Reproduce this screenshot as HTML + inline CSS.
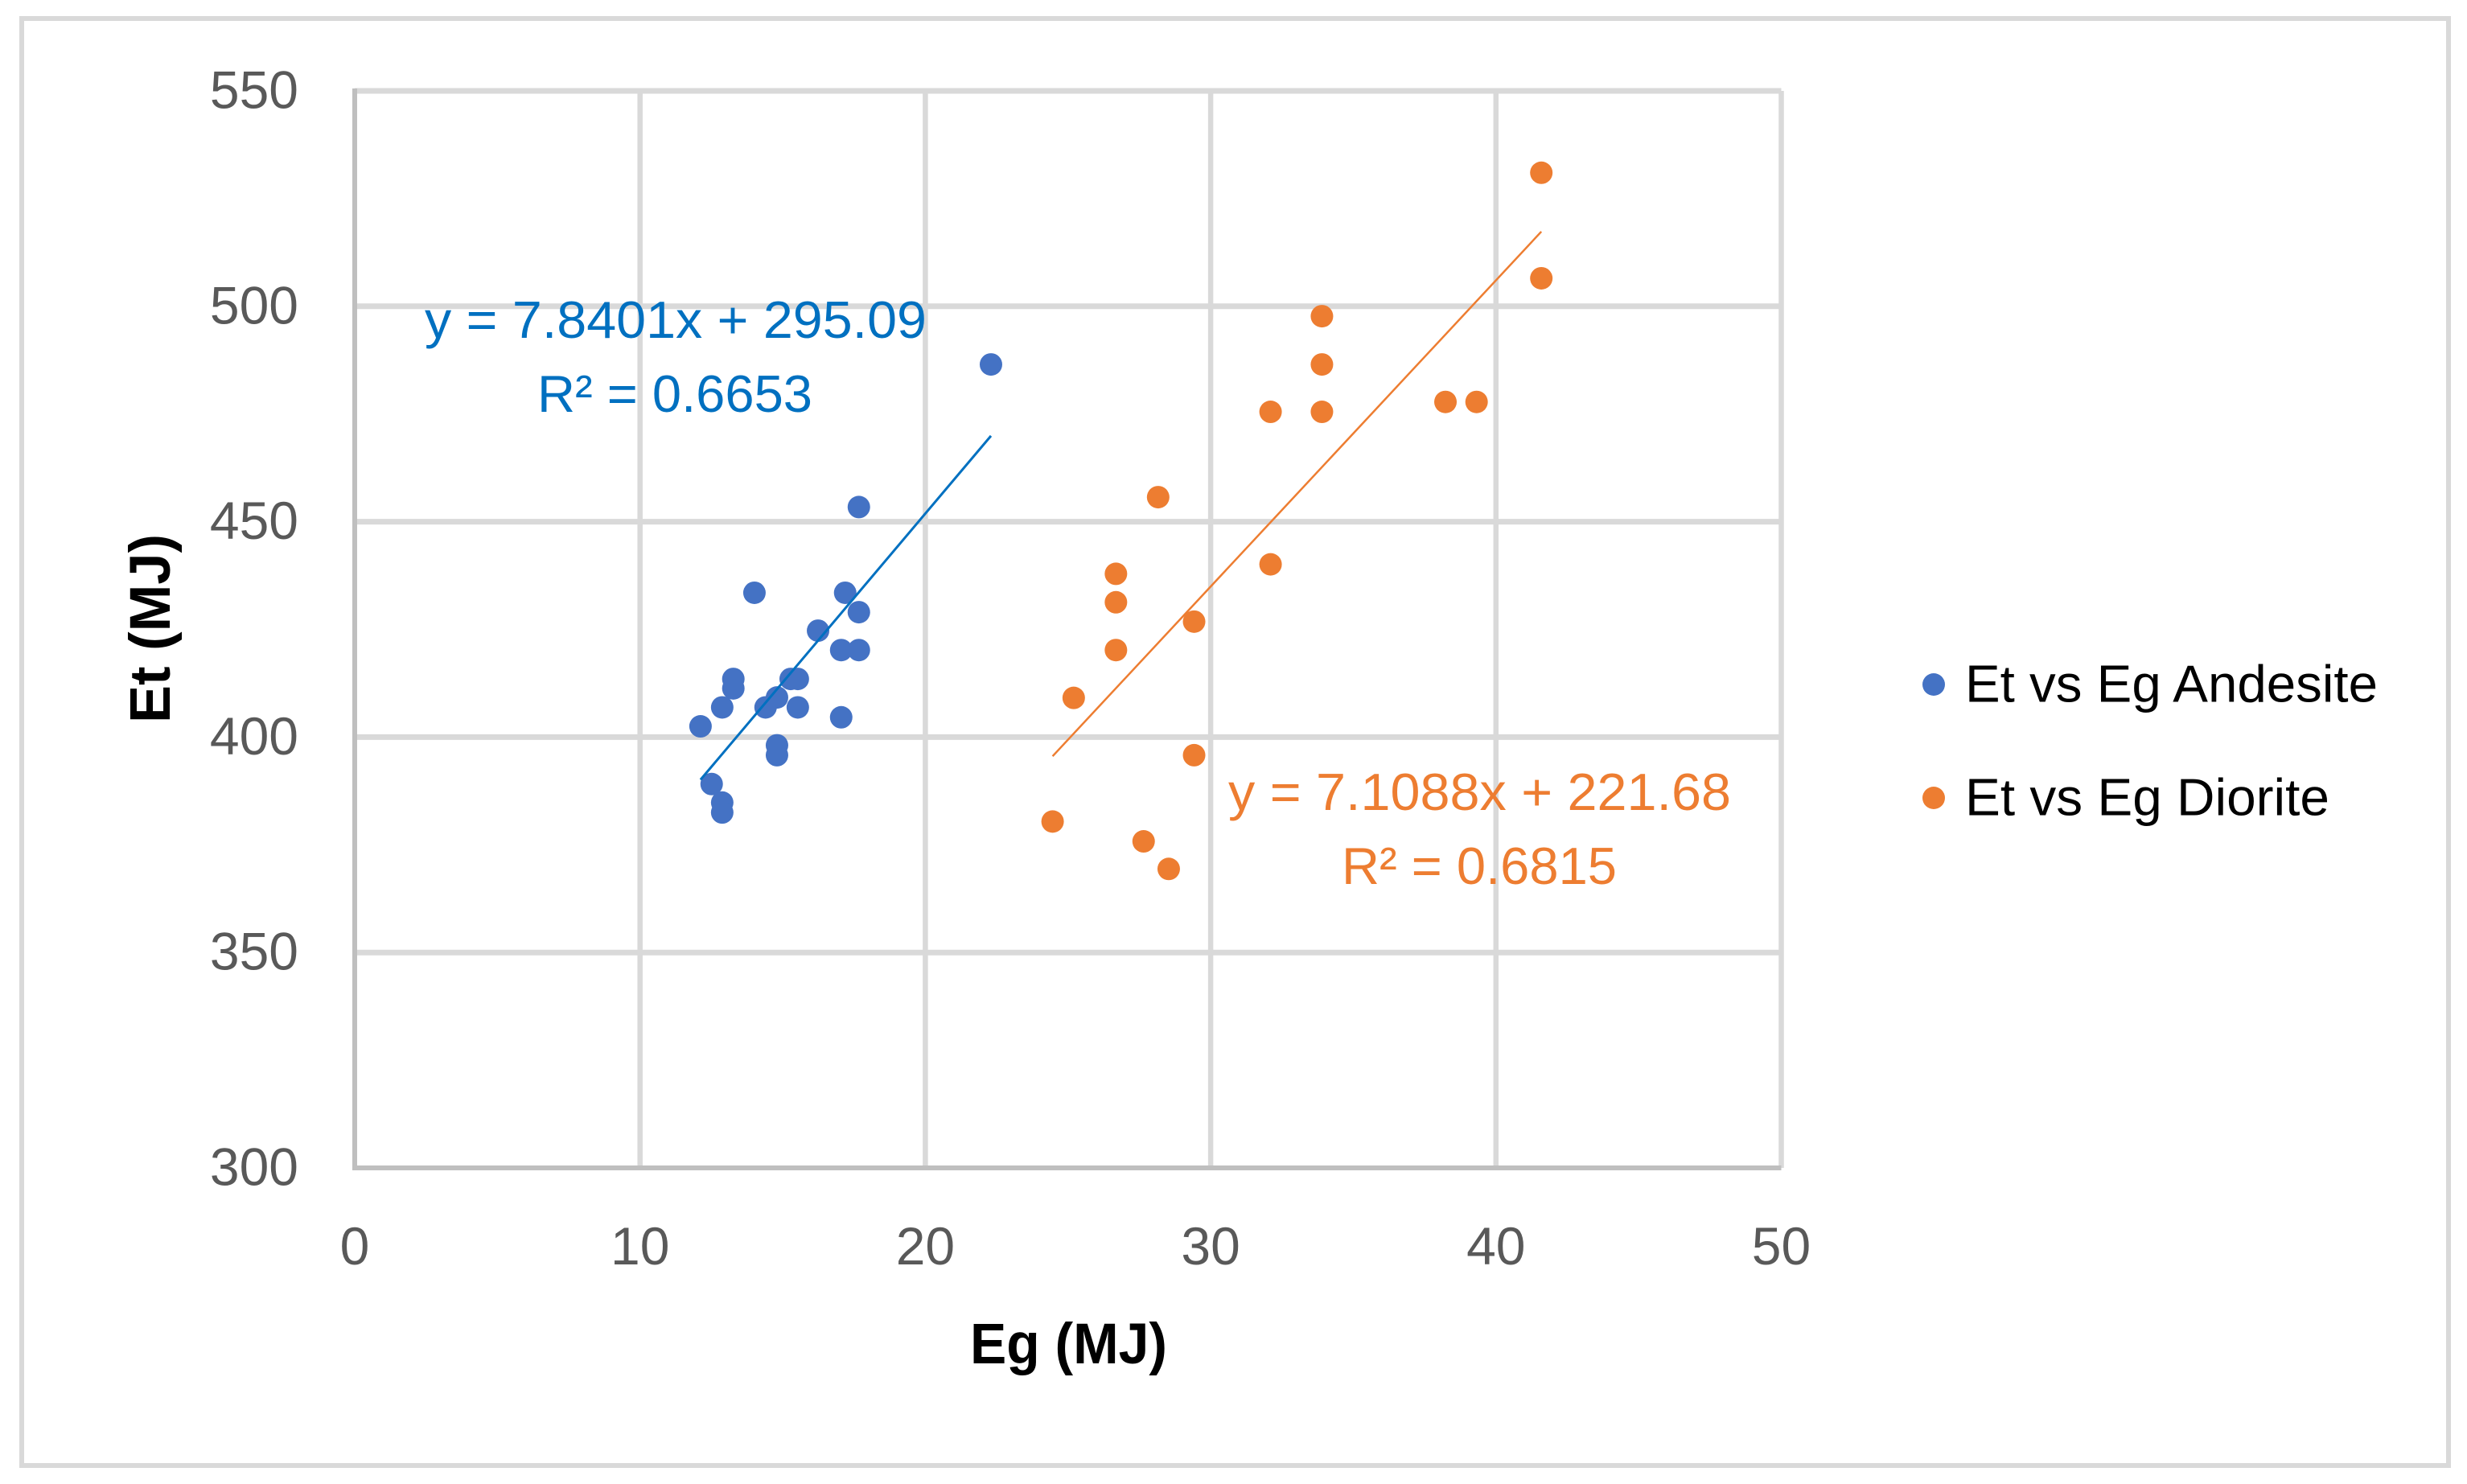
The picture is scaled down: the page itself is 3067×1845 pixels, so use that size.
<!DOCTYPE html>
<html>
<head>
<meta charset="utf-8">
<title>Et vs Eg scatter chart</title>
<style>
html,body{margin:0;padding:0;background:#fff;}
svg{display:block;}
text{font-family:"Liberation Sans",sans-serif;}
</style>
</head>
<body>
<svg id="chart" xmlns="http://www.w3.org/2000/svg" width="3067" height="1845" viewBox="0 0 3067 1845">
  <rect x="0" y="0" width="3067" height="1845" fill="#ffffff"/>
  <rect x="27" y="23" width="3017" height="1799" fill="none" stroke="#d9d9d9" stroke-width="6"/>
  <g id="grid"></g>
  <g id="axes"></g>
  <g id="ticks"></g>
  <g id="marks"></g>
  <g id="trends"></g>

  <text x="1206" y="1695" font-size="71" font-weight="bold" fill="#000" textLength="245" lengthAdjust="spacingAndGlyphs">Eg (MJ)</text>
  <text transform="translate(211,899) rotate(-90)" x="0" y="0" font-size="71" font-weight="bold" fill="#000" textLength="235" lengthAdjust="spacingAndGlyphs">Et (MJ)</text>

  <text x="528" y="420" font-size="65" fill="#0070c0" textLength="624" lengthAdjust="spacingAndGlyphs">y = 7.8401x + 295.09</text>
  <text x="668" y="512" font-size="65" fill="#0070c0" textLength="342" lengthAdjust="spacingAndGlyphs">R² = 0.6653</text>
  <text x="1527" y="1007" font-size="65" fill="#ed7d31" textLength="625" lengthAdjust="spacingAndGlyphs">y = 7.1088x + 221.68</text>
  <text x="1668" y="1099" font-size="65" fill="#ed7d31" textLength="342" lengthAdjust="spacingAndGlyphs">R² = 0.6815</text>

  <g>
    <circle cx="2404" cy="851" r="14" fill="#4472c4"/>
    <text x="2443" y="872.5" font-size="65" fill="#000" textLength="513" lengthAdjust="spacingAndGlyphs">Et vs Eg Andesite</text>
    <circle cx="2404" cy="992" r="14" fill="#ed7d31"/>
    <text x="2443" y="1013.5" font-size="65" fill="#000" textLength="453" lengthAdjust="spacingAndGlyphs">Et vs Eg Diorite</text>
  </g>
</svg>
<script>
const xTicks = [0, 10, 20, 30, 40, 50];
const yTicks = [300, 350, 400, 450, 500, 550];

const andesiteEg = [22.3, 17.67, 14.01, 17.19, 17.67, 16.24, 17.05, 17.67, 13.27, 15.28, 15.53, 13.27, 14.8, 14.4, 12.88, 15.53, 17.05, 12.12, 14.8, 14.8, 12.51, 12.88, 12.88];
const andesiteEt = [486.5, 453.4, 433.5, 433.5, 429.0, 424.7, 420.2, 420.2, 413.5, 413.5, 413.5, 411.3, 409.2, 406.9, 406.9, 406.9, 404.6, 402.5, 398.1, 395.8, 389.1, 384.8, 382.5];

const dioriteEg = [41.59, 41.59, 33.9, 33.9, 32.1, 33.9, 38.23, 39.32, 28.16, 26.68, 26.68, 26.68, 32.1, 29.42, 25.2, 29.42, 24.46, 27.65, 28.53];
const dioriteEt = [531.0, 506.5, 497.7, 486.5, 475.5, 475.5, 477.8, 477.8, 455.7, 437.9, 431.3, 420.2, 440.1, 426.8, 409.1, 395.8, 380.4, 375.8, 369.4];

const andesiteFit = [7.8401, 295.09];
const dioriteFit = [7.1088, 221.68];

const NS = 'http://www.w3.org/2000/svg';
const plotLeft = 441, plotRight = 2214.5, plotTop = 113, plotBottom = 1452;
const xMin = 0, xMax = 50, yMin = 300, yMax = 550;

function xScale(v) { return plotLeft + (v - xMin) / (xMax - xMin) * (plotRight - plotLeft); }
function yScale(v) { return plotBottom - (v - yMin) / (yMax - yMin) * (plotBottom - plotTop); }

function makeLine(parent, x1, y1, x2, y2, color, width) {
  const l = document.createElementNS(NS, 'line');
  l.setAttribute('x1', x1);
  l.setAttribute('y1', y1);
  l.setAttribute('x2', x2);
  l.setAttribute('y2', y2);
  l.setAttribute('stroke', color);
  l.setAttribute('stroke-width', width);
  parent.appendChild(l);
  return l;
}

const grid = document.getElementById('grid');
const axes = document.getElementById('axes');
const ticks = document.getElementById('ticks');
const marks = document.getElementById('marks');
const trends = document.getElementById('trends');

xTicks.forEach(function (t) {
  if (t !== xMin) {
    const g = makeLine(grid, xScale(t), plotTop, xScale(t), plotBottom, '#d9d9d9', 6.5);
    
    
  }
  const label = document.createElementNS(NS, 'text');
  label.setAttribute('x', xScale(t));
  label.setAttribute('y', 1572);
  label.setAttribute('text-anchor', 'middle');
  label.setAttribute('font-size', '66');
  label.setAttribute('fill', '#595959');
  label.textContent = t;
  
  
  ticks.appendChild(label);
});

yTicks.forEach(function (t) {
  if (t !== yMin) {
    const g = makeLine(grid, plotLeft, yScale(t), plotRight, yScale(t), '#d9d9d9', 7);
    
    
  }
  const label = document.createElementNS(NS, 'text');
  label.setAttribute('x', 371);
  label.setAttribute('y', yScale(t) + 21.5);
  label.setAttribute('text-anchor', 'end');
  label.setAttribute('font-size', '66');
  label.setAttribute('fill', '#595959');
  label.textContent = t;
  
  
  ticks.appendChild(label);
});

const yAxisLine = makeLine(axes, plotLeft, plotTop - 3, plotLeft, plotBottom + 3, '#bfbfbf', 6);


const xAxisLine = makeLine(axes, plotLeft - 3, plotBottom, plotRight, plotBottom, '#bfbfbf', 6);



function drawSeries(xs, ys, color, seriesName) {
  xs.forEach(function (x, i) {
    const c = document.createElementNS(NS, 'circle');
    c.setAttribute('cx', xScale(x));
    c.setAttribute('cy', yScale(ys[i]));
    c.setAttribute('r', 14);
    c.setAttribute('fill', color);
    
    
    marks.appendChild(c);
  });
}

function drawTrend(xs, fit, color, width, seriesName) {
  const x0 = Math.min.apply(null, xs);
  const x1 = Math.max.apply(null, xs);
  const l = makeLine(trends, xScale(x0), yScale(fit[0] * x0 + fit[1]), xScale(x1), yScale(fit[0] * x1 + fit[1]), color, width);
  
  
}

drawSeries(andesiteEg, andesiteEt, '#4472c4', 'andesite');
drawSeries(dioriteEg, dioriteEt, '#ed7d31', 'diorite');
drawTrend(andesiteEg, andesiteFit, '#0070c0', 3, 'andesite');
drawTrend(dioriteEg, dioriteFit, '#ed7d31', 2.5, 'diorite');
</script>
</body>
</html>
